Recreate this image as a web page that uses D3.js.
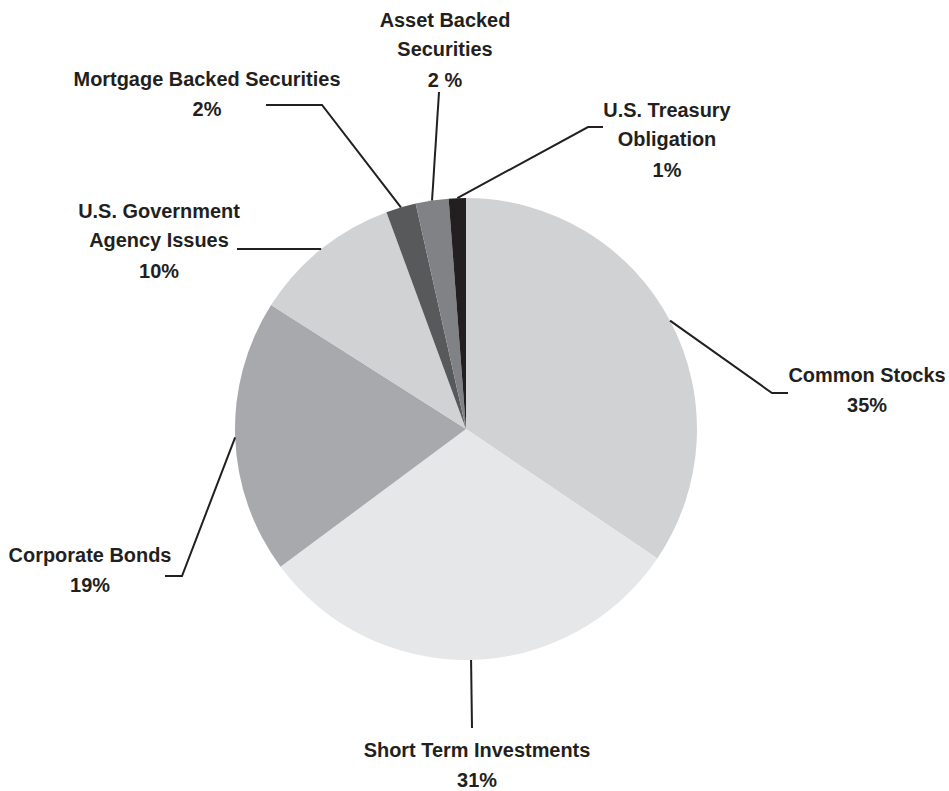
<!DOCTYPE html>
<html>
<head>
<meta charset="utf-8">
<script src="https://cdn.jsdelivr.net/npm/d3@7"></script>
<style>
  body{margin:0;background:#fff;}
  svg text{font-family:"Liberation Sans",Arial,sans-serif;font-weight:bold;font-size:21px;fill:#231f20;}
</style>
</head>
<body>
<svg id="pie" width="949" height="791"></svg>
<script>
// slices clockwise from 12 o'clock
const categories=["Common Stocks","Short Term Investments","Corporate Bonds",
  "U.S. Government Agency Issues","Mortgage Backed Securities","Asset Backed Securities","U.S. Treasury Obligation"];
const shares=[34.5,30.4,19.2,10.4,2.1,2.3,1.2];
const pctLabels=["35%","31%","19%","10%","2%","2 %","1%"];
const fills=["#d1d2d4","#e6e7e8","#a7a9ac","#d1d2d4","#58595b","#808285","#231f20"];

// label layout: elbow points of the leader and text block (center x, first baseline)
const layout={
  "Common Stocks":{pts:[[772,393],[788,393]],x:867,y:382,lines:["Common Stocks"]},
  "Short Term Investments":{pts:[[472,728]],x:477,y:757,lines:["Short Term Investments"]},
  "Corporate Bonds":{pts:[[182,576],[165,576]],x:90,y:562,lines:["Corporate Bonds"]},
  "U.S. Government Agency Issues":{pts:[[237,249]],x:159,y:218,lines:["U.S. Government","Agency Issues"]},
  "Mortgage Backed Securities":{pts:[[322,105],[266,105]],x:207,y:86,lines:["Mortgage Backed Securities"]},
  "Asset Backed Securities":{pts:[[439,92]],x:445,y:27,lines:["Asset Backed","Securities"]},
  "U.S. Treasury Obligation":{pts:[[588,127],[603,127]],x:667,y:117,lines:["U.S. Treasury","Obligation"]}
};
const lineGap=29.5;

const svg=d3.select("#pie");
const cx=466,cy=429,r=231;

const data=categories.map((c,i)=>({name:c,value:shares[i],pct:pctLabels[i],fill:fills[i]}));
const pie=d3.pie().value(d=>d.value).sort(null);
const arc=d3.arc().innerRadius(0).outerRadius(r);
const arcs=pie(data);

const g=svg.append("g").attr("transform",`translate(${cx},${cy})`);
g.selectAll("path.slice")
  .data(arcs)
  .enter().append("path")
  .attr("class","slice")
  .attr("d",arc)
  .attr("fill",d=>d.data.fill);

// condensed look: squeeze a regular bold face so the widest label spans ~267px
const probe=svg.append("text").text("Mortgage Backed Securities");
const squeeze=267/probe.node().getComputedTextLength();
probe.remove();

// leaders start on the rim at each slice's mid angle
const line=d3.line();
arcs.forEach(a=>{
  const mid=(a.startAngle+a.endAngle)/2;
  const start=[cx+r*Math.sin(mid),cy-r*Math.cos(mid)];
  const L=layout[a.data.name];
  svg.append("path")
    .attr("d",line([start,...L.pts]))
    .attr("fill","none")
    .attr("stroke","#231f20")
    .attr("stroke-width",2);
  const t=svg.append("g")
    .attr("transform",`translate(${L.x},0) scale(${squeeze},1)`)
    .append("text").attr("text-anchor","middle");
  L.lines.concat([a.data.pct]).forEach((s,i)=>{
    t.append("tspan").attr("x",0).attr("y",L.y+i*lineGap+(i===L.lines.length?1:0)).text(s);
  });
});
</script>
</body>
</html>
